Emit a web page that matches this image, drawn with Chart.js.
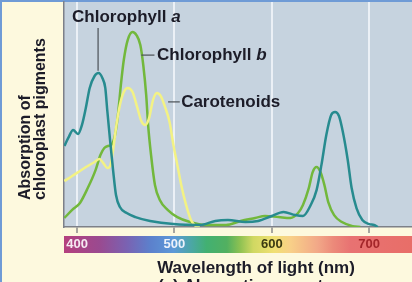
<!DOCTYPE html>
<html>
<head>
<meta charset="utf-8">
<script src="https://cdn.jsdelivr.net/npm/chart.js@4.4.1/dist/chart.umd.min.js"></script>
<style>
  html, body { margin: 0; padding: 0; background: #fdf9de; }
  canvas { display: block; }
</style>
</head>
<body>
<canvas id="chartEspectro" width="412" height="282"></canvas>
<script>
// longitud de onda (nm) / absorcion relativa (0-100)
const nmChlA = [387, 391, 396, 401, 405, 409, 413, 418, 422, 426, 429, 431, 434, 437, 440, 444, 451, 460, 475, 499,
  526, 542, 555, 573, 586, 600, 612, 624, 632, 640, 646, 651, 656, 661, 665, 669, 673, 678, 682, 687, 693, 700, 705, 709];
const absChlA = [36, 39.6, 43.1, 41.3, 45.3, 52.9, 61.8, 67.1, 68.4, 66.2, 61.8, 52, 38.2, 25.3, 14.2, 8.9, 6.2, 4.4, 2.7, 1.3,
  0.9, 2.7, 3.1, 2.2, 2.7, 4.9, 6.7, 5.3, 4.9, 9.8, 16.4, 27.6, 40.9, 49.8, 51.1, 49.3, 42.2, 29.8, 17.3, 8.4, 3.1, 1.3, 0.9, 0];

const nmChlB = [387, 395, 403, 411, 419, 424, 428, 432, 435, 439, 442, 445, 448, 452, 457, 461, 465, 468, 471, 473, 476,
  480, 485, 493, 503, 516, 532, 553, 568, 583, 593, 607, 619, 627, 632, 638, 642, 646, 650, 654, 658, 664, 672, 683, 691];
const absChlB = [4, 7.6, 10.7, 17.3, 25.3, 32, 35.1, 36, 36.4, 40.9, 49.8, 63.1, 74.2, 83.1, 86.7, 85.3, 80.9, 72, 58.7, 45.3, 32,
  18.7, 12, 7.6, 4.4, 2.2, 0.9, 0.9, 2.7, 4, 4.9, 4.4, 4, 6.2, 9.8, 17.3, 24.4, 26.7, 24.4, 18.7, 11.1, 5.3, 2.2, 0.4, 0];

const nmCarot = [387, 395, 403, 411, 418, 423, 427, 431, 434, 437, 440, 444, 448, 452, 457, 462, 466, 470, 474, 478, 482,
  486, 490, 495, 499, 503, 507, 512, 517, 522, 526];
const absCarot = [20.4, 22.7, 24.9, 27.1, 28.9, 30.2, 28.4, 26.2, 27.1, 34.2, 44, 54.2, 60, 61.8, 60, 52.9, 47.1, 45.3, 48.4, 56.4, 59.6,
  58.2, 53.8, 46.7, 36.4, 27.6, 18.7, 9.8, 3.1, 0.4, 0];

const xTicks = [400, 500, 600, 700];

const fuente = '"Liberation Sans", Arial, Helvetica, sans-serif';
const tinta = '#1c1c28';

// colores del espectro visible (nm, color)
const espectro = [
  [387, '#b4407e'], [423, '#9a4a90'], [451, '#7a62b2'], [475, '#5c80cc'], [499, '#5c98d8'],
  [519, '#4aa8a0'], [533, '#42b072'], [554, '#52b060'], [567, '#8cc152'], [581, '#d0d862'],
  [602, '#f0e072'], [619, '#f8d088'], [647, '#f2a888'], [663, '#ec8a7a'], [681, '#e87272'], [744, '#e86e68']
];
const colorTick = { 400: '#f6eaf2', 500: '#eef2fb', 600: '#3b3a12', 700: '#a3262a' };

function serie(nm, abs) {
  return nm.map((v, i) => ({ x: v, y: abs[i] }));
}

const fondo = {
  id: 'fondo',
  beforeDraw(chart) {
    const { ctx, chartArea: a, scales: { x } } = chart;
    ctx.save();
    ctx.fillStyle = '#fdf9de';
    ctx.fillRect(0, 0, chart.width, chart.height);
    ctx.fillStyle = '#6f9bd6';
    ctx.fillRect(0, 0, chart.width, 2);
    ctx.fillRect(0, 0, 2, chart.height);
    ctx.fillStyle = '#c6d3df';
    ctx.fillRect(a.left, a.top, a.right - a.left, a.bottom - a.top);

    // barra del espectro
    const x0 = x.getPixelForValue(espectro[0][0]);
    const x1 = x.getPixelForValue(espectro[espectro.length - 1][0]);
    const grad = ctx.createLinearGradient(x0, 0, x1, 0);
    espectro.forEach(([nm, c]) => {
      grad.addColorStop((nm - espectro[0][0]) / (espectro[espectro.length - 1][0] - espectro[0][0]), c);
    });
    ctx.fillStyle = grad;
    ctx.fillRect(a.left, a.bottom + 9, a.right - a.left, 17);
    ctx.restore();
  }
};

const etiquetas = {
  id: 'etiquetas',
  afterDatasetsDraw(chart) {
    const { ctx, scales: { x, y } } = chart;
    ctx.save();
    ctx.strokeStyle = '#4a4f55';
    ctx.lineWidth = 1.2;
    const linea = (n1, a1, n2, a2) => {
      ctx.beginPath();
      ctx.moveTo(x.getPixelForValue(n1), y.getPixelForValue(a1));
      ctx.lineTo(x.getPixelForValue(n2), y.getPixelForValue(a2));
      ctx.stroke();
    };
    linea(421.6, 88.4, 421.6, 69.5);
    linea(466, 76.4, 479.5, 76.4);
    linea(493.5, 55.6, 505.5, 55.6);

    ctx.fillStyle = tinta;
    ctx.textBaseline = 'middle';
    const texto = (t, letra, nm, abs) => {
      const px = x.getPixelForValue(nm);
      const py = y.getPixelForValue(abs);
      ctx.font = 'bold 17px ' + fuente;
      ctx.fillText(t, px, py);
      if (letra) {
        const w = ctx.measureText(t).width;
        ctx.font = 'italic bold 17px ' + fuente;
        ctx.fillText(letra, px + w, py);
      }
    };
    texto('Chlorophyll ', 'a', 394.9, 93.3);
    texto('Chlorophyll ', 'b', 482.2, 76.4);
    texto('Carotenoids', '', 506.9, 55.6);
    ctx.restore();
  },
  afterDraw(chart) {
    const { ctx } = chart;
    ctx.save();
    ctx.fillStyle = tinta;

    // titulo eje x
    ctx.font = 'bold 17px ' + fuente;
    ctx.textAlign = 'center';
    ctx.textBaseline = 'middle';
    ctx.fillText('Wavelength of light (nm)', 256, 268);

    // titulo eje y (dos lineas, alineadas abajo)
    ctx.font = 'bold 16px ' + fuente;
    ctx.textAlign = 'left';
    ctx.translate(0, 200);
    ctx.rotate(-Math.PI / 2);
    ctx.fillText('Absorption of', 0, 26);
    ctx.fillText('chloroplast pigments', 0, 41);
    ctx.setTransform(1, 0, 0, 1, 0, 0);

    // pie de figura (cortado)
    ctx.font = 'bold 17px ' + fuente;
    ctx.textAlign = 'left';
    ctx.textBaseline = 'alphabetic';
    ctx.fillText('(a) Absorption spectra', 158, 291);
    ctx.restore();
  }
};

new Chart(document.getElementById('chartEspectro'), {
  type: 'line',
  data: {
    datasets: [
      { label: 'Chlorophyll a', data: serie(nmChlA, absChlA), borderColor: '#278b8f', borderWidth: 2.5 },
      { label: 'Carotenoids', data: serie(nmCarot, absCarot), borderColor: '#f3f284', borderWidth: 2.5 },
      { label: 'Chlorophyll b', data: serie(nmChlB, absChlB), borderColor: '#72b83c', borderWidth: 2.5 }
    ]
  },
  options: {
    responsive: false,
    animation: false,
    layout: { padding: { top: 2, left: 0, right: 0, bottom: 0 } },
    elements: {
      point: { radius: 0 },
      line: { cubicInterpolationMode: 'monotone', fill: false }
    },
    plugins: { legend: { display: false }, tooltip: { enabled: false } },
    scales: {
      x: {
        type: 'linear',
        min: 386.6,
        max: 744,
        afterBuildTicks(s) { s.ticks = xTicks.map((v) => ({ value: v })); },
        grid: { color: 'rgba(238,243,248,0.9)', lineWidth: 2, tickColor: '#8a8a8a', tickLength: 6, tickWidth: 1.5 },
        border: { color: '#7d8088', width: 1.5 },
        ticks: {
          color: (c) => colorTick[c.tick.value] || tinta,
          font: { family: fuente, size: 13, weight: 'bold', lineHeight: 1 },
          padding: 5,
          maxRotation: 0,
          autoSkip: false
        },
        title: { display: false },
        afterFit(s) { s.height = 55; }
      },
      y: {
        min: 0,
        max: 100,
        ticks: { display: false },
        grid: { display: false, drawTicks: false },
        border: { display: true, color: '#7d8088', width: 1.5 },
        title: { display: false },
        afterFit(s) { s.width = 64; }
      }
    }
  },
  plugins: [fondo, etiquetas]
});
</script>
</body>
</html>
